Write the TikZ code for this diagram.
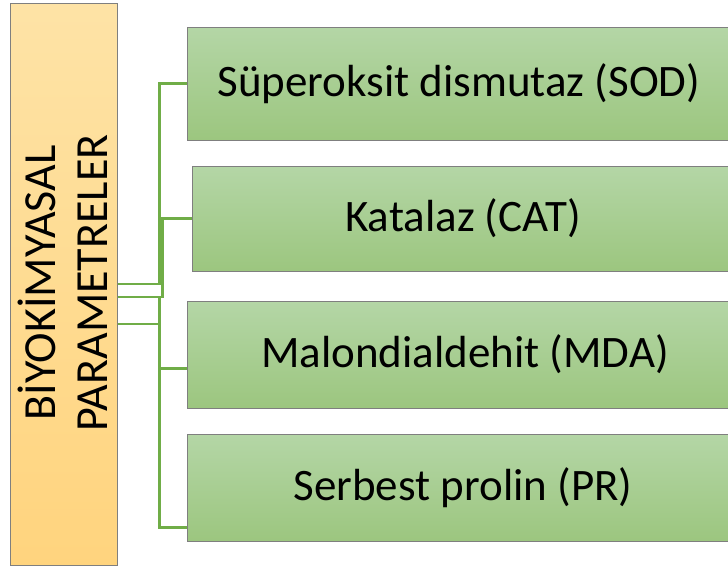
\documentclass[tikz,border=0pt]{standalone}
\usepackage{fontspec}
\setmainfont{Carlito}
\definecolor{gtop}{HTML}{B4D6A6}
\definecolor{gbot}{HTML}{9CC67F}
\definecolor{otop}{HTML}{FEE3A6}
\definecolor{obot}{HTML}{FFD47E}
\definecolor{edge}{HTML}{7F7F7F}
\definecolor{conncol}{HTML}{70AD47}
\begin{document}
\begin{tikzpicture}[x=1pt,y=-1pt,
  greenbox/.style={draw=edge, line width=1pt, top color=gtop, bottom color=gbot,
    minimum height=#1, inner sep=0pt, font=\fontsize{45}{54}\selectfont},
  leftbox/.style={draw=edge, line width=1pt, top color=otop, bottom color=obot,
    minimum width=107pt, minimum height=562pt, inner sep=0pt},
  conn/.style={draw=conncol, line width=2.5pt}]
\useasboundingbox (0,0) rectangle (728,570);
\clip (0,0) rectangle (728,570);
\node[leftbox] (L) at (63.5,284) {};
\node[rotate=90, align=center, font=\fontsize{46}{52}\selectfont, inner sep=0pt] (Lt) at (63,283) {BİYOKİMYASAL\\PARAMETRELER};
\node[greenbox=113pt, minimum width=544pt] (B1) at (459,83.5) {Süperoksit dismutaz (SOD)};
\node[greenbox=105pt, minimum width=542pt] (B2) at (463,218.5) {Katalaz (CAT)};
\node[greenbox=107pt, minimum width=556pt] (B3) at (465,354.5) {Malondialdehit (MDA)};
\node[greenbox=107pt, minimum width=552pt] (B4) at (463,487.5) {Serbest prolin (PR)};
\draw[conn] (L.east) -- ++(42,0) |- (B1.west);
\draw[conn] ([yshift=-13pt]L.east) -- ++(45,0) |- (B2.west);
\draw[conn] ([yshift=-13pt]L.east) -- ++(42,0) |- ([yshift=-40pt]B4.west);
\draw[conn] ([yshift=-40pt]L.east) -- ++(42,0) |- ([yshift=-14pt]B3.west);
\end{tikzpicture}
\end{document}
